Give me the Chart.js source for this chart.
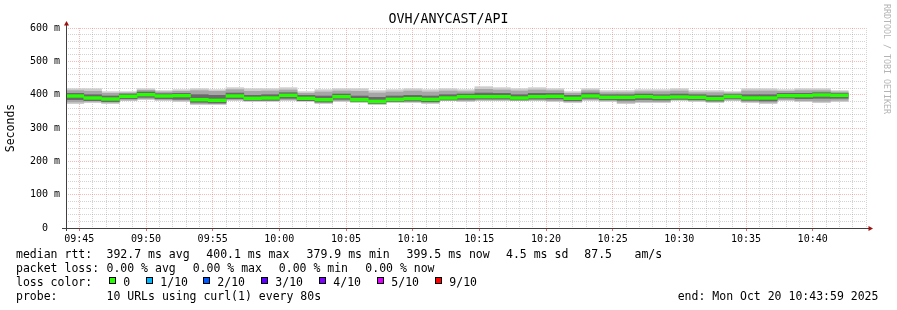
<!DOCTYPE html>
<html><head><meta charset="utf-8">
<script src="https://cdn.jsdelivr.net/npm/chart.js@4.4.1/dist/chart.umd.min.js"></script>
<style>
html,body{margin:0;padding:0;background:#fff;}
#wrap{position:relative;width:897px;height:310px;overflow:hidden;font-family:"DejaVu Sans Mono",monospace;color:#000;}
#c{position:absolute;left:0;top:0;}
.t{position:absolute;font-size:11.5px;line-height:14px;white-space:pre;}
.box{position:absolute;width:7px;height:7px;box-sizing:border-box;border:1px solid #000;}
#title{position:absolute;left:0;width:897px;top:11px;text-align:center;font-size:13.3px;line-height:16px;white-space:pre;}
#wm{position:absolute;left:882px;top:4px;writing-mode:vertical-rl;font-size:8.3px;line-height:10px;color:#b4b4b4;white-space:pre;}
</style></head>
<body><div id="wrap">
<canvas id="c" width="897" height="310"></canvas>
<div id="title">OVH/ANYCAST/API</div>
<div id="wm">RRDTOOL / TOBI OETIKER</div>
<div id="legend"></div>
</div>
<script>
// ---- data ----
const stepSeconds = 80;
const times = ['09:44:00','09:45:20','09:46:40','09:48:00','09:49:20','09:50:40','09:52:00','09:53:20','09:54:40','09:56:00',
'09:57:20','09:58:40','10:00:00','10:01:20','10:02:40','10:04:00','10:05:20','10:06:40','10:08:00','10:09:20',
'10:10:40','10:12:00','10:13:20','10:14:40','10:16:00','10:17:20','10:18:40','10:20:00','10:21:20','10:22:40',
'10:24:00','10:25:20','10:26:40','10:28:00','10:29:20','10:30:40','10:32:00','10:33:20','10:34:40','10:36:00',
'10:37:20','10:38:40','10:40:00','10:41:20'];
const median = [396,390,387,395,400,396,397,385,383,396, 389,390,398,389,385,394,385,380,386,388, 386,390,394,394,394,390,394,395,389,396, 392,392,394,392,393,392,388,394,390,390, 397,397,399,398];
const outerHigh = [418,418,409,409,418,412,415,418,415,421, 418,418,421,409,415,418,418,412,415,418, 415,418,415,424,421,418,421,418,409,418, 412,412,415,415,418,412,412,409,418,418, 415,418,418,412];
const outerLow = [373,376,373,382,385,382,379,370,370,382, 379,379,382,379,373,379,376,370,376,376, 373,382,379,382,382,382,382,379,376,382, 379,373,376,376,382,379,376,382,376,373, 382,379,376,379];
const midHigh = [412,410,404,405,413,408,410,412,410,415, 410,411,414,404,408,411,410,405,408,411, 408,411,409,416,414,411,414,412,404,412, 406,406,409,409,411,406,406,405,411,411, 410,412,412,408];
const midLow = [378,380,377,384,388,385,383,373,373,385, 382,382,385,382,376,382,379,373,379,379, 376,384,382,384,384,384,384,382,379,385, 382,377,379,379,385,382,379,384,379,377, 385,382,380,383];
const innerHigh = [404,400,396,402,408,403,404,400,398,405, 398,400,406,398,396,402,396,392,396,398, 396,400,402,405,404,400,404,404,398,405, 400,400,402,400,402,400,397,400,400,400, 404,404,406,404];
const innerLow = [385,382,379,388,392,388,386,377,375,388, 383,383,389,382,378,386,380,374,380,381, 379,384,386,387,387,384,387,387,382,389, 385,383,385,384,386,385,381,388,383,381, 390,388,389,389];
const yTicksMajor = [0,100,200,300,400,500,600];
const yMinorStep = 20, xMinorStep = 1;
const axisStart = '09:44:00', axisEnd = '10:44:00';

const legendRows = [
  [[16,'median rtt:'],[106.5,'392.7 ms avg'],[206.3,'400.1 ms max'],[306.6,'379.9 ms min'],[406.6,'399.5 ms now'],[506,'4.5 ms sd'],[584.3,'87.5'],[634.5,'am/s']],
  [[16,'packet loss:'],[106.5,'0.00 % avg'],[192.7,'0.00 % max'],[278.8,'0.00 % min'],[365.3,'0.00 % now']],
  [[16,'loss color:']],
  [[16,'probe:'],[106.5,'10 URLs using curl(1) every 80s'],[677.7,'end: Mon Oct 20 10:43:59 2025']]
];
const lossLabels = ['0','1/10','2/10','3/10','4/10','5/10','9/10'];
const lossColors = ['#26ff00','#00b8ff','#0059ff','#5e00ff','#7e00ff','#dd00ff','#ff0000'];
const lossBoxX = [109,146,203,261,319,377,435];

// ---- helpers ----
function toMin(s){const p=s.split(':').map(Number);return p[0]*60+p[1]+(p[2]||0)/60;}
const t0 = toMin(axisStart), t1 = toMin(axisEnd);
const half = stepSeconds/120;
const xs = times.map(s => toMin(s) - t0 + half);
function band(lo, hi){return xs.map((x,i)=>({x:x, y:[lo[i], hi[i]]}));}
const medBar = xs.map((x,i)=>({x:x, y:[median[i]-4, median[i]+4]}));

// ---- legend (HTML text) ----
const lg = document.getElementById('legend');
const baseTops = [247, 261, 275, 289];
legendRows.forEach((row,r)=>row.forEach(([x,txt])=>{
  const d=document.createElement('div');d.className='t';d.style.left=x+'px';d.style.top=baseTops[r]+'px';d.textContent=txt;lg.appendChild(d);
}));
lossLabels.forEach((lab,i)=>{
  const b=document.createElement('div');b.className='box';b.style.left=lossBoxX[i]+'px';b.style.top='277px';b.style.background=lossColors[i];lg.appendChild(b);
  const d=document.createElement('div');d.className='t';d.style.left=(lossBoxX[i]+14.3)+'px';d.style.top=baseTops[2]+'px';d.textContent=lab;lg.appendChild(d);
});

// ---- chart ----
const MONO = '"DejaVu Sans Mono", monospace';
const minorGrid = 'rgba(140,140,140,0.38)';
const majorGrid = 'rgba(240,100,100,0.45)';
function isMajorX(v){return Math.round(t0+v)%5===0;}
function fmtX(v){const t=Math.round(t0+v);const h=Math.floor(t/60),m=t%60;return String(h).padStart(2,'0')+':'+String(m).padStart(2,'0');}
function makeTicks(min,max,step){const a=[];for(let v=min;v<=max+1e-9;v+=step)a.push({value:Math.round(v*1000)/1000});return a;}

const rrdAxes = {
  id:'rrdAxes',
  afterDraw(chart){
    const {ctx, chartArea:a} = chart;
    ctx.save();
    ctx.strokeStyle='#404040';ctx.lineWidth=1;
    ctx.beginPath();
    ctx.moveTo(a.left-4, a.bottom+0.5); ctx.lineTo(a.right+3, a.bottom+0.5);
    ctx.moveTo(a.left+0.5, a.bottom+3); ctx.lineTo(a.left+0.5, a.top-4);
    ctx.stroke();
    ctx.fillStyle='#a01010';
    ctx.beginPath();
    ctx.moveTo(a.left+0.5, a.top-7); ctx.lineTo(a.left+3, a.top-2.5); ctx.lineTo(a.left-2, a.top-2.5); ctx.closePath(); ctx.fill();
    ctx.beginPath();
    ctx.moveTo(a.right+7, a.bottom+0.5); ctx.lineTo(a.right+2.5, a.bottom+3); ctx.lineTo(a.right+2.5, a.bottom-2); ctx.closePath(); ctx.fill();
    ctx.restore();
  }
};

const barOpts = {stack:'smoke', barThickness:'flex', barPercentage:1, categoryPercentage:1, borderWidth:0};
new Chart(document.getElementById('c'), {
  type:'bar',
  data:{datasets:[
    Object.assign({label:'median', data:medBar, backgroundColor:'#26ff00', order:0}, barOpts),
    Object.assign({label:'inner', data:band(innerLow, innerHigh), backgroundColor:'#6a6a6a', order:1}, barOpts),
    Object.assign({label:'mid', data:band(midLow, midHigh), backgroundColor:'#a6a6a6', order:2}, barOpts),
    Object.assign({label:'outer', data:band(outerLow, outerHigh), backgroundColor:'#cdcdcd', order:3}, barOpts)
  ]},
  plugins:[rrdAxes],
  options:{
    responsive:false, animation:false, devicePixelRatio:1,
    layout:{padding:{left:0,right:31,top:28,bottom:0}},
    plugins:{legend:{display:false}, tooltip:{enabled:false}, title:{display:false}},
    scales:{
      x:{type:'linear', min:0, max:t1-t0, offset:false,
        afterFit(s){s.height=82;},
        afterBuildTicks(s){s.ticks=makeTicks(0,t1-t0,xMinorStep);},
        grid:{offset:false, drawOnChartArea:true, drawTicks:true, tickLength:3,
          color:c=>c.tick && isMajorX(c.tick.value)?majorGrid:minorGrid,
          tickColor:c=>c.tick && isMajorX(c.tick.value)?'rgba(230,60,60,0.8)':'rgba(0,0,0,0)'},
        border:{display:false, dash:[1,1]},
        ticks:{autoSkip:false, maxRotation:0, padding:2, color:'#000',
          font:{family:MONO, size:10},
          callback:v=>isMajorX(v)?fmtX(v):''}
      },
      y:{type:'linear', min:0, max:600, stacked:false,
        afterFit(s){s.width=66;},
        afterBuildTicks(s){s.ticks=makeTicks(0,600,yMinorStep);},
        grid:{drawTicks:false, color:c=>c.tick && c.tick.value%100===0?majorGrid:minorGrid},
        border:{display:false, dash:[1,1]},
        title:{display:true, text:'Seconds', color:'#000', font:{family:MONO, size:11.5}, padding:{top:4,bottom:0}},
        ticks:{autoSkip:false, padding:6, color:'#000', font:{family:MONO, size:10},
          callback:v=>yTicksMajor.includes(v)?(v===0?'  0  ':v+' m'):''}
      }
    }
  }
});
</script>
</body></html>
